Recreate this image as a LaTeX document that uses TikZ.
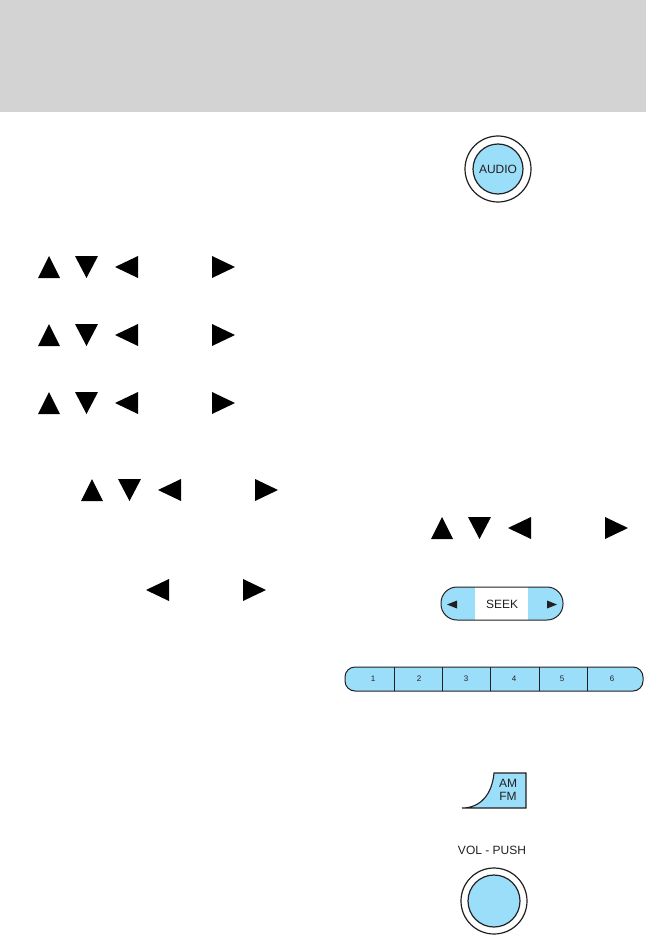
\documentclass[tikz,border=0pt]{standalone}
\usepackage{xcolor}
\usepackage{fontspec}
\setmainfont{Liberation Sans}
\usepackage{tikz}
\usetikzlibrary{positioning}
\definecolor{btnblue}{HTML}{9BDEFA}
\definecolor{headgray}{HTML}{D3D3D3}
\definecolor{btnline}{HTML}{231F20}
\tikzstyle{knob} = [circle, inner sep=0pt, draw=btnline, line width=1.2pt, fill=white]
\tikzstyle{knobcap} = [circle, inner sep=0pt, draw=btnline, line width=1.2pt, fill=btnblue, text=btnline, font=\fontsize{12}{13}\selectfont]
\tikzstyle{lbl} = [inner sep=0pt, text=btnline, font=\fontsize{12}{13}\selectfont]
\tikzstyle{num} = [inner sep=0pt, text=btnline, font=\fontsize{8}{9}\selectfont]
\tikzset{
  updown/.pic={
    \fill (0,22) -- (22,22) -- (11,0) -- cycle;
    \fill (37,0) -- (60,0) -- (48.5,22) -- cycle;
  },
  leftright/.pic={
    \fill (77,11) -- (100,0) -- (100,22) -- cycle;
    \fill (174,0) -- (197,11) -- (174,22) -- cycle;
  }
}
\begin{document}
\begin{tikzpicture}[x=1pt, y=-1pt]
  \useasboundingbox (0,0) rectangle (646,936);
  % Header band
  \fill[headgray] (0,0) rectangle (646,112);
  % Arrow rows
  \foreach \px/\py in {38/256, 38/324, 38/392, 81/479, 431/517} {
    \pic at (\px,\py) {updown};
    \pic at (\px,\py) {leftright};
  }
  \pic at (69,579) {leftright};
  % Audio button
  \node[knob, minimum size=66pt] (audioring) at (498,169) {};
  \node[knobcap, minimum size=50pt] (audio) at (audioring.center) {AUDIO};
  % Seek bar
  \begin{scope}
    \clip[rounded corners=16pt] (441,587) rectangle (563,620);
    \fill[btnblue] (441,587) rectangle (475,620);
    \fill[btnblue] (528,587) rectangle (563,620);
  \end{scope}
  \draw[btnline, line width=1pt, rounded corners=16pt] (441,587) rectangle (563,620);
  \node[lbl] (seek) at (502,604) {SEEK};
  \fill[btnline] (447,604.5) -- (457,600.5) -- (457,608.5) -- cycle;
  \fill[btnline] (557,604.5) -- (547,600.5) -- (547,608.5) -- cycle;
  % Preset bar
  \draw[btnline, line width=1pt, fill=btnblue, rounded corners=10pt] (345,667) rectangle (643,691);
  \foreach \dx in {394, 442.5, 490.5, 539.5, 587.5}
    \draw[btnline, line width=0.9pt] (\dx,667) -- (\dx,691);
  \foreach \nx/\nn in {373/1, 419/2, 466/3, 514/4, 562/5, 612/6}
    \node[num] (preset\nn) at (\nx,679) {\nn};
  % AM FM button
  \fill[btnblue] (462,808) .. controls (480,808) and (492,795) .. (494,773) -- (526,773) -- (526,808) -- cycle;
  \draw[btnline, line width=1.1pt] (462,808) .. controls (480,808) and (492,795) .. (494,773) -- (526,773) -- (526,808) -- cycle;
  \node[lbl] (am) at (508,783) {AM};
  \node[lbl] (fm) at (508,796.5) {FM};
  % Volume knob
  \node[knob, minimum size=66pt] (volring) at (494,901) {};
  \node[knobcap, minimum size=52pt] (vol) at (volring.center) {};
  \node[lbl] (vollbl) at (492,850) {VOL - PUSH};
\end{tikzpicture}
\end{document}
